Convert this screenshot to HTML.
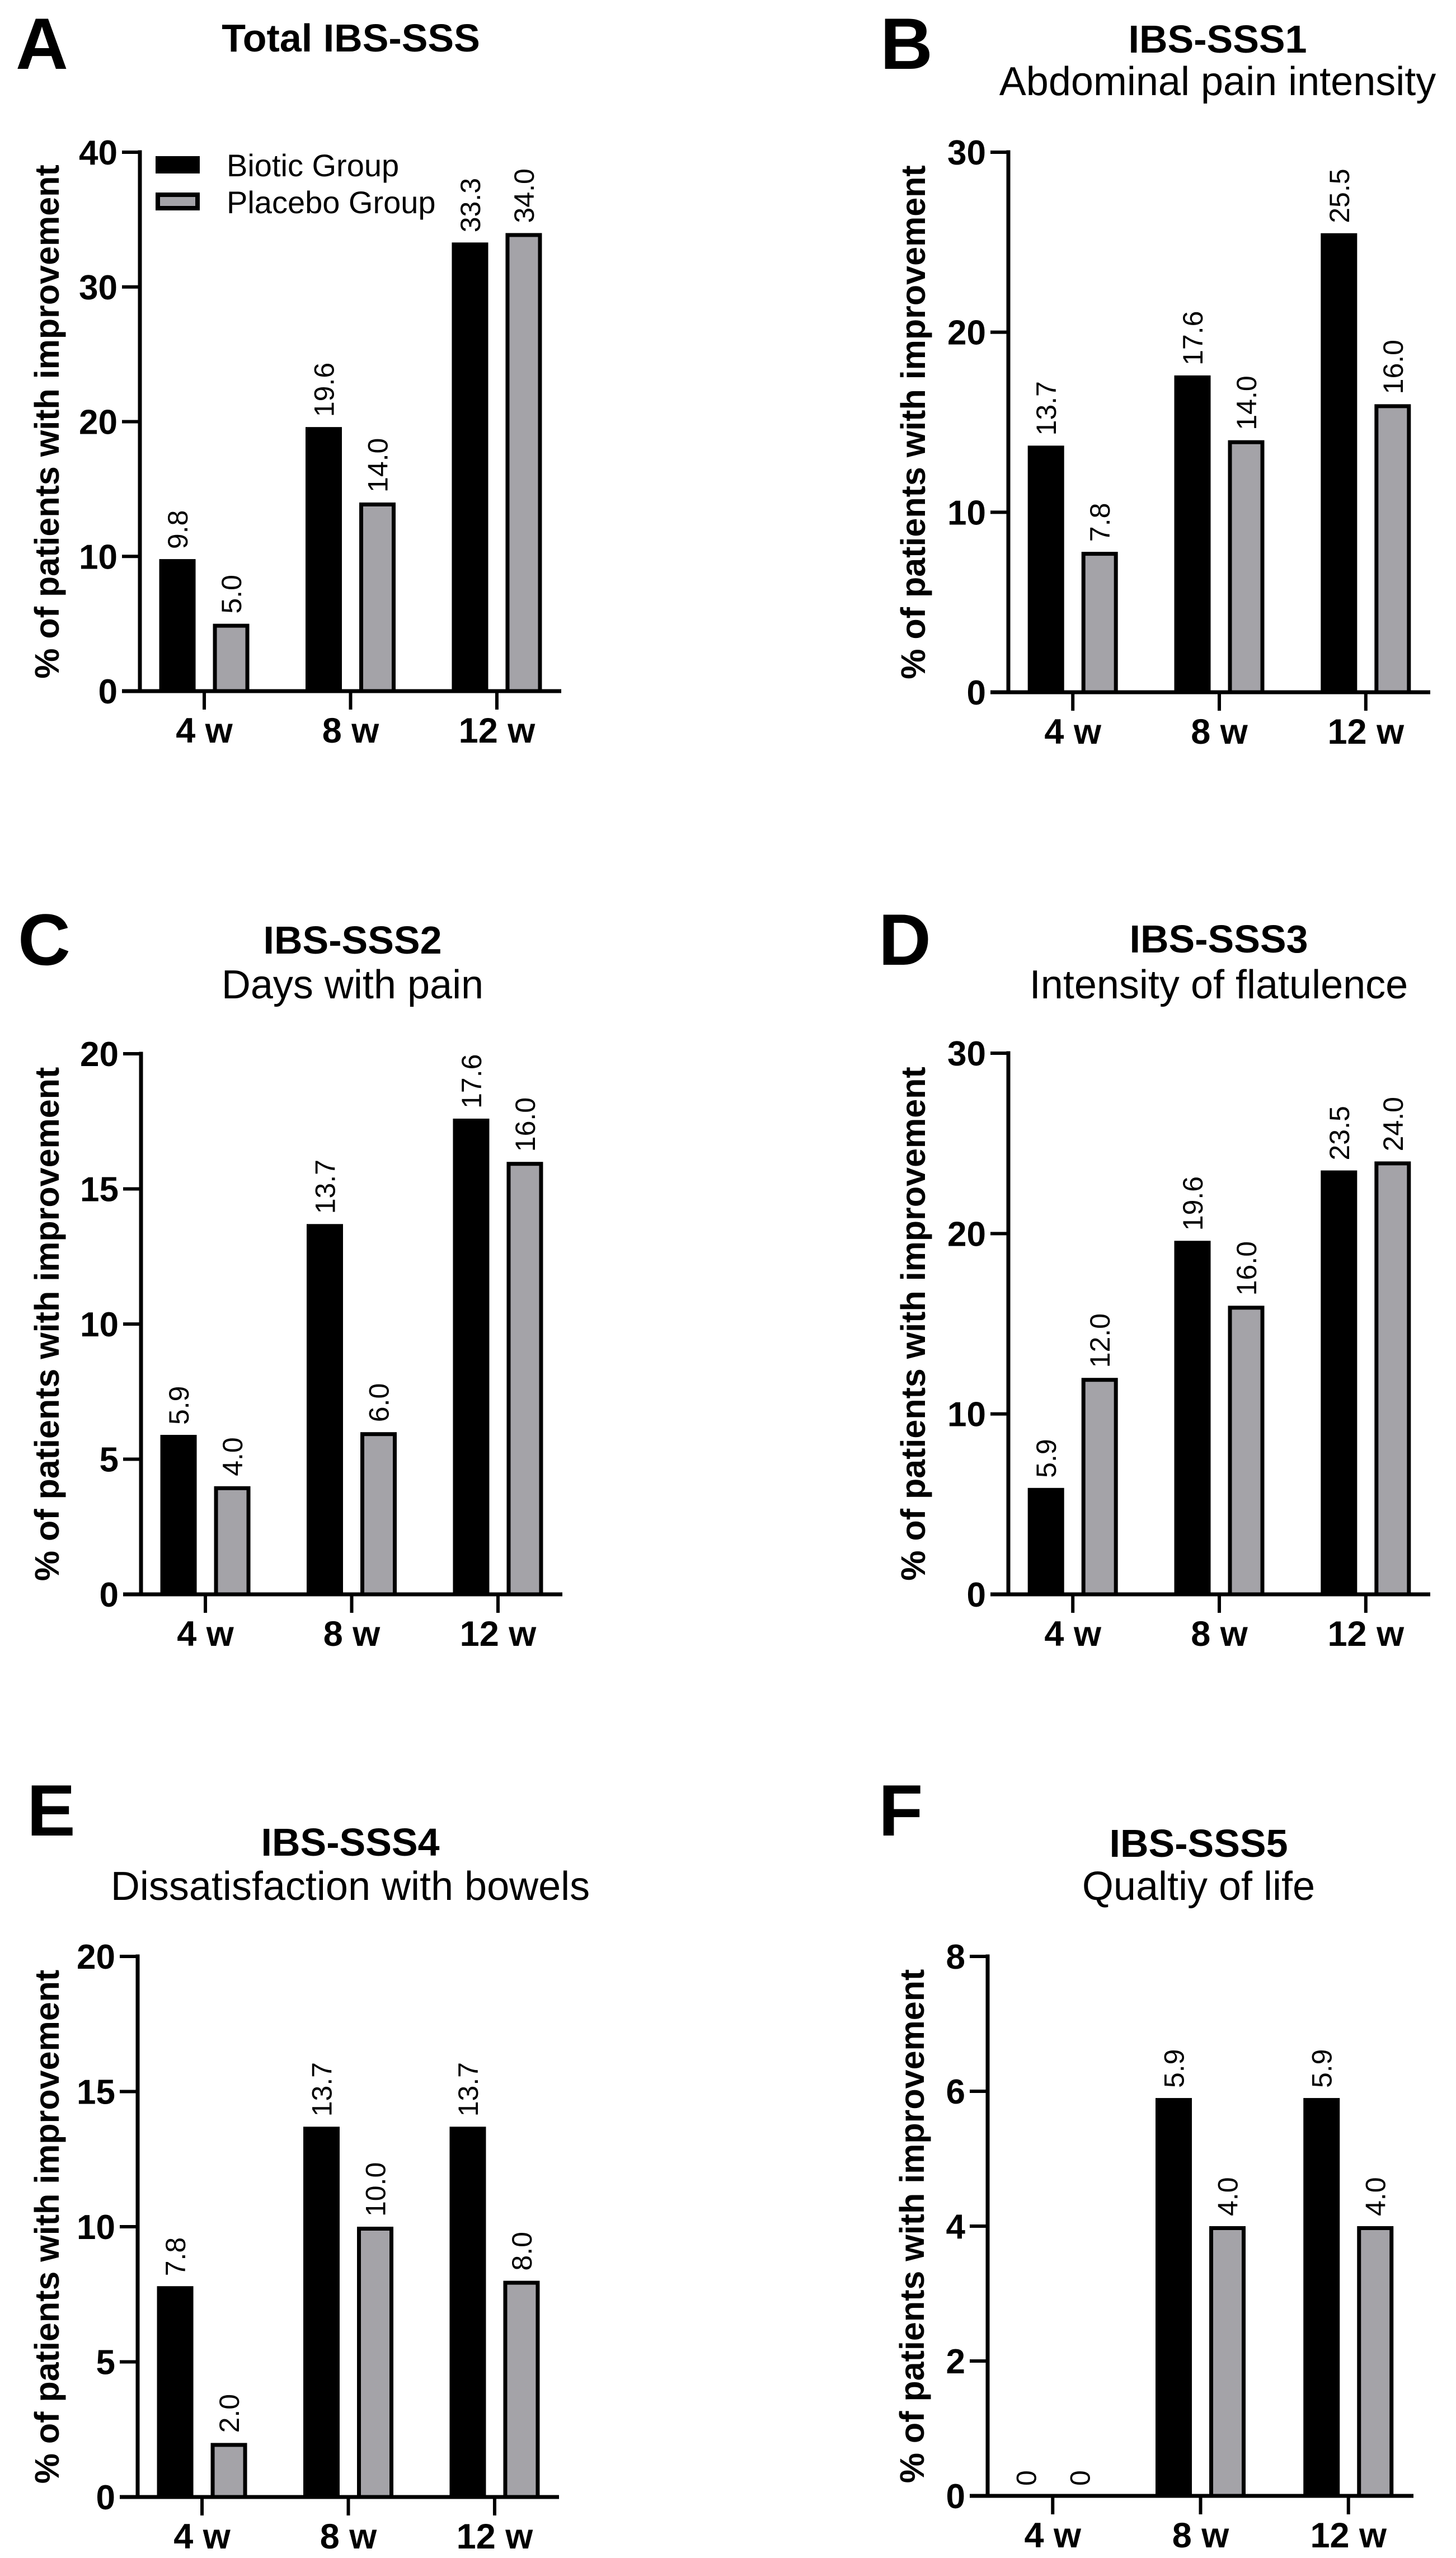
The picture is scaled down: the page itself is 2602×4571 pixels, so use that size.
<!DOCTYPE html>
<html><head><meta charset="utf-8"><style>
html,body{margin:0;padding:0;background:#fff;}
svg{display:block;font-family:"Liberation Sans",Arial,sans-serif;}
</style></head><body>
<svg id="fig" width="2602" height="4571" viewBox="0 0 2602 4571" xmlns="http://www.w3.org/2000/svg"></svg>
<script>
const categories = ["4 w","8 w","12 w"];
const bioticA = [9.8,19.6,33.3];
const placeboA = [5.0,14.0,34.0];
const bioticB = [13.7,17.6,25.5];
const placeboB = [7.8,14.0,16.0];
const bioticC = [5.9,13.7,17.6];
const placeboC = [4.0,6.0,16.0];
const bioticD = [5.9,19.6,23.5];
const placeboD = [12.0,16.0,24.0];
const bioticE = [7.8,13.7,13.7];
const placeboE = [2.0,10.0,8.0];
const bioticF = [0,5.9,5.9];
const placeboF = [0,4.0,4.0];
const ticksA = [0,10,20,30,40];
const ticksB = [0,10,20,30];
const ticksC = [0,5,10,15,20];
const ticksD = [0,10,20,30];
const ticksE = [0,5,10,15,20];
const ticksF = [0,2,4,6,8];
const labelsBioticA = ["9.8","19.6","33.3"];
const labelsPlaceboA = ["5.0","14.0","34.0"];
const labelsBioticB = ["13.7","17.6","25.5"];
const labelsPlaceboB = ["7.8","14.0","16.0"];
const labelsBioticC = ["5.9","13.7","17.6"];
const labelsPlaceboC = ["4.0","6.0","16.0"];
const labelsBioticD = ["5.9","19.6","23.5"];
const labelsPlaceboD = ["12.0","16.0","24.0"];
const labelsBioticE = ["7.8","13.7","13.7"];
const labelsPlaceboE = ["2.0","10.0","8.0"];
const labelsBioticF = ["0","5.9","5.9"];
const labelsPlaceboF = ["0","4.0","4.0"];

const NS="http://www.w3.org/2000/svg";
const svg=document.getElementById('fig');
function mk(tag,attrs,parent,text){const e=document.createElementNS(NS,tag);for(const k in attrs)e.setAttribute(k,attrs[k]);if(text!==undefined)e.textContent=text;(parent||svg).appendChild(e);return e;}

const panels=[
 {id:"a",letter:"A",lx:28,ly:123,title:"Total IBS-SSS",sub:null,tx:627,ty:92,sy:0,ax:250,top:272,zero:1235,end:1003,ytx:84,bio:bioticA,pla:placeboA,lb:labelsBioticA,lp:labelsPlaceboA,ticks:ticksA,legend:true},
 {id:"b",letter:"B",lx:1573,ly:123,title:"IBS-SSS1",sub:"Abdominal pain intensity",tx:2176,ty:94,sy:170,ax:1802,top:272,zero:1237,end:2556,ytx:1632,bio:bioticB,pla:placeboB,lb:labelsBioticB,lp:labelsPlaceboB,ticks:ticksB},
 {id:"c",letter:"C",lx:32,ly:1724,title:"IBS-SSS2",sub:"Days with pain",tx:630,ty:1704,sy:1784,ax:252,top:1883,zero:2849,end:1005,ytx:84,bio:bioticC,pla:placeboC,lb:labelsBioticC,lp:labelsPlaceboC,ticks:ticksC},
 {id:"d",letter:"D",lx:1570,ly:1724,title:"IBS-SSS3",sub:"Intensity of flatulence",tx:2178,ty:1702,sy:1784,ax:1802,top:1882,zero:2849,end:2556,ytx:1632,bio:bioticD,pla:placeboD,lb:labelsBioticD,lp:labelsPlaceboD,ticks:ticksD},
 {id:"e",letter:"E",lx:48,ly:3280,title:"IBS-SSS4",sub:"Dissatisfaction with bowels",tx:626,ty:3316,sy:3395,ax:246,top:3496,zero:4462,end:999,ytx:84,bio:bioticE,pla:placeboE,lb:labelsBioticE,lp:labelsPlaceboE,ticks:ticksE},
 {id:"f",letter:"F",lx:1570,ly:3280,title:"IBS-SSS5",sub:"Qualtiy of life",tx:2142,ty:3318,sy:3395,ax:1765,top:3496,zero:4460,end:2526,ytx:1630,bio:bioticF,pla:placeboF,lb:labelsBioticF,lp:labelsPlaceboF,ticks:ticksF}
];

panels.forEach(p=>{
 const g=mk('g',{});
 
 
 const yMax=p.ticks[p.ticks.length-1];
 const y=v=>p.zero-(v/yMax)*(p.zero-p.top);
 const step=(p.end-p.ax)/2.88;
 const cx=i=>p.ax+step*(0.44+i);
 const L=mk('text',{x:p.lx,y:p.ly,'font-size':130,'font-weight':'bold'},g,p.letter);
 
 
 const T=mk('text',{x:p.tx,y:p.ty,'font-size':70,'font-weight':'bold','text-anchor':'middle'},g,p.title);
 
 
 if(p.sub){const S=mk('text',{x:p.tx,y:p.sy,'font-size':72,'text-anchor':'middle'},g,p.sub);
  
  }
 const yt=(p.top+p.zero)/2;
 const YT=mk('text',{x:p.ytx,y:yt,'font-size':61,'font-weight':'bold','text-anchor':'middle','dominant-baseline':'central',transform:`rotate(-90 ${p.ytx} ${yt})`},g,'% of patients with improvement');
 
 
 const bw=65;
 p.bio.forEach((v,i)=>{
  const c=cx(i)-48;
  const r=mk('rect',{x:c-bw/2,y:y(v),width:bw,height:p.zero-y(v),fill:'#000'},g);
  
  
  const ly=y(v)-18;
  const t=mk('text',{x:c+18,y:ly,'font-size':50,transform:`rotate(-90 ${c+18} ${ly})`},g,p.lb[i]);
  
  
 });
 p.pla.forEach((v,i)=>{
  const c=cx(i)+48;
  if(v>0){
   const r=mk('rect',{x:c-bw/2+3.5,y:y(v)+3.5,width:bw-7,height:Math.max(0,p.zero-y(v)-3.5),fill:'#a4a3a8',stroke:'#000','stroke-width':7},g);
   
   
  }
  const ly=y(v)-18;
  const t=mk('text',{x:c+18,y:ly,'font-size':50,transform:`rotate(-90 ${c+18} ${ly})`},g,p.lp[i]);
  
  
 });
 const ya=mk('line',{x1:p.ax,y1:p.top-3.5,x2:p.ax,y2:p.zero+3.5,stroke:'#000','stroke-width':7},g);
 
 
 const xa=mk('line',{x1:p.ax-32,y1:p.zero,x2:p.end,y2:p.zero,stroke:'#000','stroke-width':7},g);
 
 
 p.ticks.forEach(tv=>{
  const ty=y(tv);
  if(tv>0){const tl=mk('line',{x1:p.ax-32,y1:ty,x2:p.ax,y2:ty,stroke:'#000','stroke-width':6},g);
   
   }
  const tt=mk('text',{x:p.ax-40,y:ty+22,'font-size':62,'font-weight':'bold','text-anchor':'end'},g,String(tv));
  
  
 });
 categories.forEach((c,i)=>{
  const x=cx(i);
  const tl=mk('line',{x1:x,y1:p.zero,x2:x,y2:p.zero+33,stroke:'#000','stroke-width':6},g);
  
  
  const tt=mk('text',{x:x,y:p.zero+92,'font-size':63,'font-weight':'bold','text-anchor':'middle'},g,c);
  
  
 });
 if(p.legend){
  const lg=mk('g',{},g);
  
  
  const r1=mk('rect',{x:278,y:279,width:79,height:31,fill:'#000'},lg);
  
  
  const t1=mk('text',{x:405,y:315,'font-size':56},lg,'Biotic Group');
  
  
  const r2=mk('rect',{x:282,y:348,width:71,height:24,fill:'#a4a3a8',stroke:'#000','stroke-width':8},lg);
  
  
  const t2=mk('text',{x:405,y:381,'font-size':56},lg,'Placebo Group');
  
  
 }
});
</script>
</body></html>
